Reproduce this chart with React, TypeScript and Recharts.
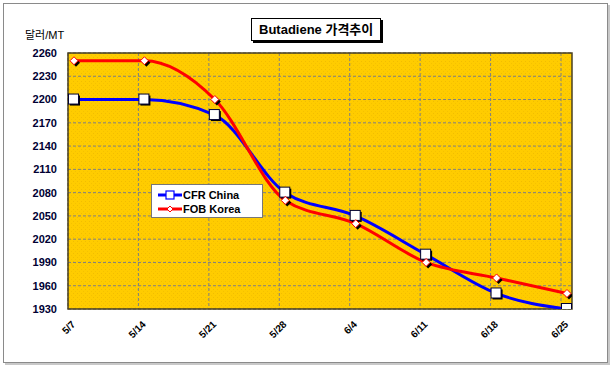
import React from "react";
import {
  LineChart,
  Line,
  XAxis,
  YAxis,
  CartesianGrid,
  ReferenceArea,
} from "recharts";

// weekly price points, USD per metric ton
const dates = ["5/7", "5/14", "5/21", "5/28", "6/4", "6/11", "6/18", "6/25"];
const cfrChina = [2200, 2200, 2180, 2080, 2050, 2000, 1950, 1930];
const fobKorea = [2250, 2250, 2200, 2070, 2040, 1990, 1970, 1950];
const yTicks = [1930, 1960, 1990, 2020, 2050, 2080, 2110, 2140, 2170, 2200, 2230, 2260];

const data = dates.map((d, i) => ({
  idx: i,
  date: d,
  cfr: cfrChina[i],
  fob: fobKorea[i],
}));

const FONT = "'Liberation Sans', Arial, 'Noto Sans CJK KR', sans-serif";
const X_MIN = -0.085;
const X_MAX = 7.071;
const X_TICKS = dates.map((_, i) => i);

const SquareDot = (props: any) => {
  const { cx, cy, index } = props;
  if (cx == null || cy == null) return null;
  return (
    <g key={`sq-${index}`}>
      <rect x={cx - 4} y={cy - 4} width={10} height={10} fill="#000" />
      <rect x={cx - 5.5} y={cy - 5.5} width={10} height={10} fill="#fff" stroke="#000033" strokeWidth={1} />
    </g>
  );
};

const DiamondDot = (props: any) => {
  const { cx, cy, index } = props;
  if (cx == null || cy == null) return null;
  const d = (ox: number, oy: number) =>
    `M${cx + ox},${cy - 4 + oy} L${cx + 4 + ox},${cy + oy} L${cx + ox},${cy + 4 + oy} L${cx - 4 + ox},${cy + oy} Z`;
  return (
    <g key={`dm-${index}`}>
      <path d={d(2, 2)} fill="#000" />
      <path d={d(0, 0)} fill="#fff" stroke="#ff0000" strokeWidth={1} />
    </g>
  );
};

const XTick = (props: any) => {
  const { x, y, payload } = props;
  return (
    <g transform={`translate(${x + 2},${y + 16})`}>
      <text
        textAnchor="end"
        transform="rotate(-45)"
        fontSize={10}
        fontWeight="bold"
        fill="#000"
        fontFamily={FONT}
      >
        {dates[payload.value]}
      </text>
    </g>
  );
};

const LegendBox = () => (
  <div
    style={{
      position: "absolute",
      left: 151,
      top: 184,
      width: 112,
      height: 34,
      background: "#fff",
      border: "1px solid #777",
      fontFamily: FONT,
      fontSize: 11,
      fontWeight: "bold",
      boxSizing: "border-box",
      padding: "3px 0 0 6px",
    }}
  >
    <div style={{ display: "flex", alignItems: "center", height: 13 }}>
      <svg width={24} height={10}>
        <line x1={0} y1={5} x2={24} y2={5} stroke="#0000ff" strokeWidth={3} />
        <rect x={8} y={1} width={8} height={8} fill="#fff" stroke="#0000ff" strokeWidth={1.2} />
      </svg>
      <span style={{ marginLeft: 1 }}>CFR China</span>
    </div>
    <div style={{ display: "flex", alignItems: "center", height: 15 }}>
      <svg width={24} height={10}>
        <line x1={0} y1={5} x2={24} y2={5} stroke="#ff0000" strokeWidth={3} />
        <path d="M12,2 L15,5 L12,8 L9,5 Z" fill="#fff" stroke="#ff0000" strokeWidth={1} />
      </svg>
      <span style={{ marginLeft: 1 }}>FOB Korea</span>
    </div>
  </div>
);

// vertical grid sits on the category boundaries, a little left of each point
const gridX = ({ offset }: any) =>
  X_TICKS.map((i) => offset.left + ((i - X_MIN) / (X_MAX - X_MIN)) * offset.width - 6);

export default function App() {
  return (
    <div style={{ position: "relative", width: 611, height: 370, background: "#fff" }}>
      <style>{`body{margin:0}`}</style>
      <div
        style={{
          position: "absolute",
          left: 3,
          top: 3,
          width: 603,
          height: 358,
          border: "1px solid #8a8a8a",
          boxShadow: "2px 2px 0 #c8c8c8",
        }}
      />
      <div
        style={{
          position: "absolute",
          left: 251,
          top: 18,
          padding: "3px 7px 3px 7px",
          background: "#fff",
          border: "1px solid #000",
          boxShadow: "2px 2px 0 #000",
          fontFamily: FONT,
          fontSize: 13,
          fontWeight: "bold",
          lineHeight: "15px",
        }}
      >
        Butadiene 가격추이
      </div>
      <div
        style={{
          position: "absolute",
          left: 25,
          top: 26,
          fontFamily: FONT,
          fontSize: 11,
          color: "#000",
        }}
      >
        달러/MT
      </div>
      <div style={{ position: "absolute", left: 0, top: 0 }}>
        <LineChart
          width={611}
          height={370}
          data={data}
          margin={{ top: 53, right: 39, left: 0, bottom: 0 }}
        >
          <defs>
            <pattern id="dots" width="4" height="4" patternUnits="userSpaceOnUse">
              <rect width="4" height="4" fill="#ffcc00" />
              <rect x="1" y="1" width="1" height="1" fill="#f2bd00" />
              <rect x="3" y="3" width="1" height="1" fill="#f5c200" />
            </pattern>
          </defs>
          <CartesianGrid
            fill="url(#dots)"
            stroke="#808080"
            strokeDasharray="3 2"
            fillOpacity={1}
            verticalCoordinatesGenerator={gridX}
          />
          <XAxis
            dataKey="idx"
            type="number"
            domain={[X_MIN, X_MAX]}
            ticks={X_TICKS}
            allowDataOverflow
            tick={<XTick />}
            tickLine={false}
            tickSize={0}
            tickMargin={0}
            height={61}
            axisLine={false}
          />
          <YAxis
            domain={[1930, 2260]}
            ticks={yTicks}
            allowDataOverflow
            width={68}
            tickLine={false}
            tickSize={0}
            tickMargin={11}
            axisLine={false}
            tick={{ fontSize: 11, fontWeight: "bold", fill: "#000033", fontFamily: FONT }}
          />
          <ReferenceArea
            x1={X_MIN}
            x2={X_MAX}
            y1={1930}
            y2={2260}
            fill="none"
            stroke="#4a4020"
            strokeWidth={1.5}
            ifOverflow="extendDomain"
          />
          <Line
            type="monotone"
            dataKey="cfr"
            name="CFR China"
            stroke="#0000ff"
            strokeWidth={3}
            dot={<SquareDot />}
            activeDot={false}
            isAnimationActive={false}
          />
          <Line
            type="monotone"
            dataKey="fob"
            name="FOB Korea"
            stroke="#ff0000"
            strokeWidth={3}
            dot={<DiamondDot />}
            activeDot={false}
            isAnimationActive={false}
          />
        </LineChart>
      </div>
      <LegendBox />
    </div>
  );
}
